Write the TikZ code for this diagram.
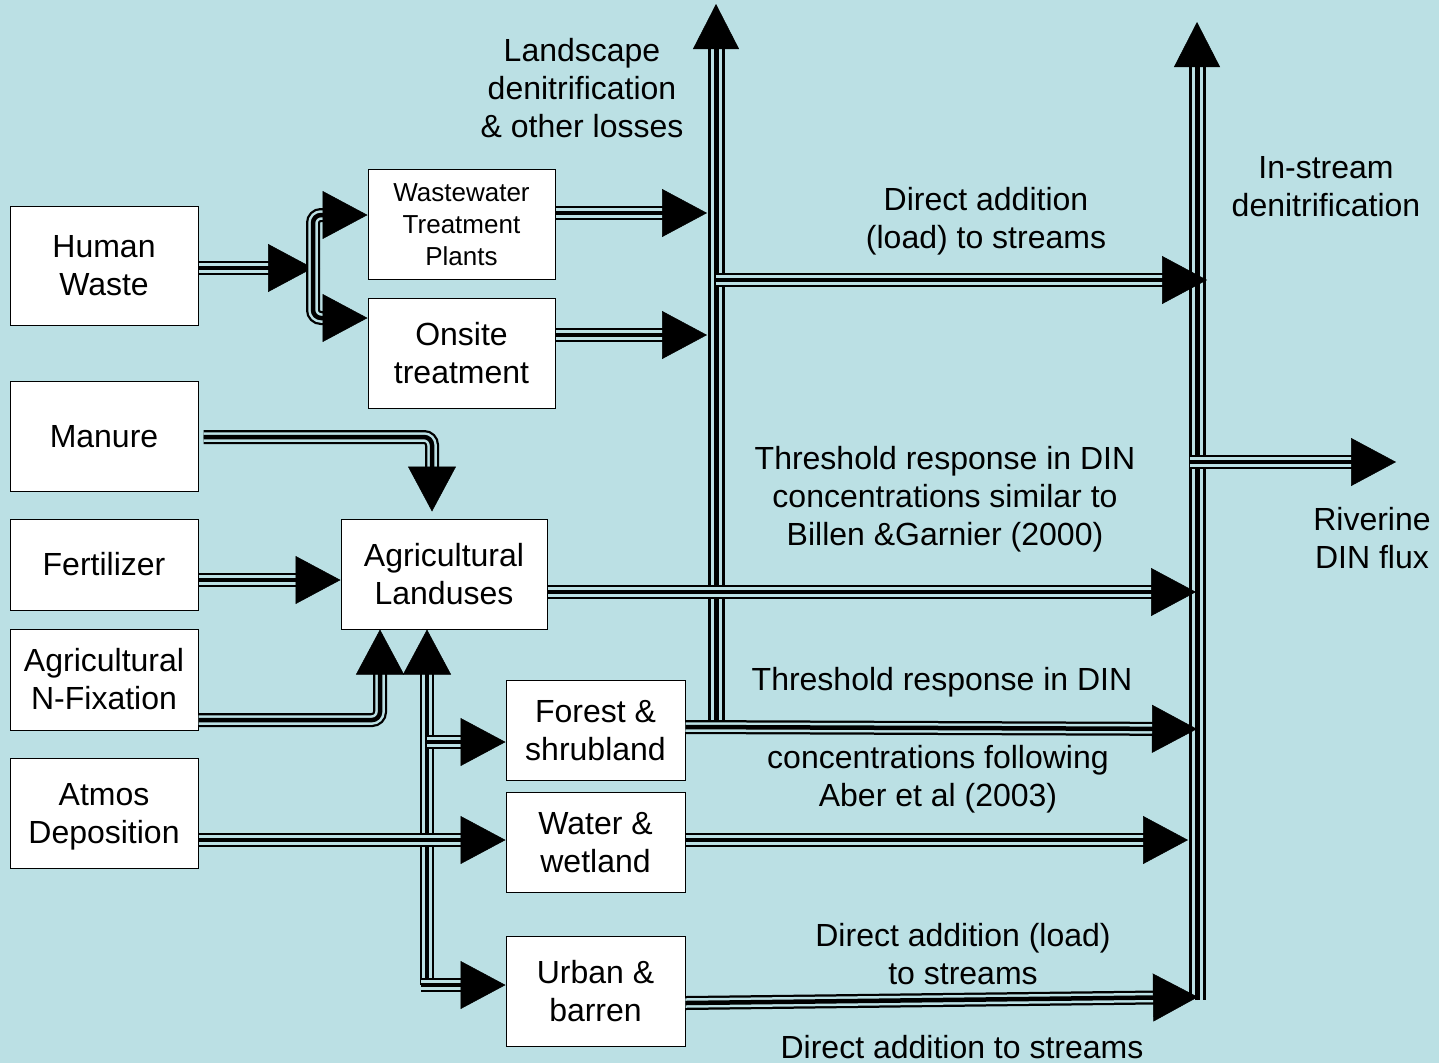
\documentclass[tikz,border=0pt]{standalone}
\usepackage{fontspec}
\setmainfont{Liberation Sans}
\usetikzlibrary{arrows.meta}
\definecolor{bgc}{RGB}{187,224,228}
\newcommand\mytop{\rule{0pt}{0.926em}}
\newcommand\mybot{\rule[-0.21em]{0pt}{0pt}}
\tikzset{
  box/.style={draw=black, line width=1pt, fill=white, align=center, inner sep=0pt,
    font=\fontsize{32}{38}\selectfont},
  lbl/.style={align=center, inner sep=0pt, font=\fontsize{32}{38}\selectfont},
  conn/.style={draw=black, line width=4.5pt, shorten >=44pt,
    preaction={draw=black, line width=14pt, shorten >=44pt},
    preaction={draw=bgc, line width=9.5pt, shorten >=44pt},
    postaction={draw=black, line width=0.5pt, shorten >=0pt, -{Triangle[length=45pt,width=48pt]}}},
  bigconn/.style={draw=black, line width=5pt, shorten >=44pt,
    preaction={draw=black, line width=17pt, shorten >=44pt},
    preaction={draw=bgc, line width=11pt, shorten >=44pt},
    postaction={draw=black, line width=0.5pt, shorten >=0pt, -{Triangle[length=45pt,width=46pt]}}},
}
\begin{document}
\begin{tikzpicture}[x=1pt,y=-1pt]
\fill[bgc] (0,0) rectangle (1439,1063);
\useasboundingbox (0,0) rectangle (1439,1063);

% boxes
\node[box, minimum width=188pt, minimum height=119pt] (hw) at (104,265.5) {\mytop Human\\Waste\mybot};
\node[box, minimum width=187pt, minimum height=110pt, font=\fontsize{26}{32}\selectfont] (wtp) at (461.5,224) {\mytop Wastewater\\Treatment\\Plants\mybot};
\node[box, minimum width=187pt, minimum height=110pt] (ons) at (461.5,353) {\mytop Onsite\\treatment\mybot};
\node[box, minimum width=188pt, minimum height=110pt] (man) at (104,436) {\mytop Manure\mybot};
\node[box, minimum width=188pt, minimum height=91pt] (fer) at (104,564.5) {\mytop Fertilizer\mybot};
\node[box, minimum width=188pt, minimum height=101pt] (anf) at (104,679.5) {\mytop Agricultural\\N-Fixation\mybot};
\node[box, minimum width=188pt, minimum height=110pt] (atm) at (104,813) {\mytop Atmos\\Deposition\mybot};
\node[box, minimum width=206pt, minimum height=110pt] (agl) at (444,574) {\mytop Agricultural\\Landuses\mybot};
\node[box, minimum width=179pt, minimum height=100pt] (for) at (595.5,730) {\mytop Forest \&\\shrubland\mybot};
\node[box, minimum width=179pt, minimum height=100pt] (wat) at (595.5,842) {\mytop Water \&\\wetland\mybot};
\node[box, minimum width=179pt, minimum height=110pt] (urb) at (595.5,991) {\mytop Urban \&\\barren\mybot};

% coordinates
\coordinate (J) at (313,268);
\coordinate (LVb) at (716,727);
\coordinate (LVt) at (716,4);
\coordinate (LVa) at (707,213);
\coordinate (LVc) at (707,335);
\coordinate (LVd) at (716,280);
\coordinate (RVb) at (1197,1000);
\coordinate (RVt) at (1197,22);
\coordinate (RVa) at (1207,280);
\coordinate (RVg) at (1196,592);
\coordinate (RVf) at (1197,729);
\coordinate (RVw) at (1188,840);
\coordinate (RVu) at (1198,997);
\coordinate (RVr) at (1190,462);
\coordinate (out) at (1396,462);
\coordinate (B) at (427,985);
\coordinate (Bf) at (427,742);

% big verticals
\draw[bigconn] (LVb) -- (LVt);
\draw[bigconn] (RVb) -- (RVt);

% human waste branch
\draw[conn] (hw.east |- J) -- (J);
\draw[conn, rounded corners=8pt] (J) |- ([yshift=9pt]wtp.west);
\draw[conn, rounded corners=8pt] (J) |- ([yshift=35pt]ons.west);
\draw[conn] ([yshift=11pt]wtp.east) -- (LVa);
\draw[conn] ([yshift=18pt]ons.east) -- (LVc);
\draw[conn] (LVd) -- (RVa);

% inputs to agriculture
\draw[conn, rounded corners=8pt] ([xshift=5pt,yshift=-1pt]man.east) -| ([xshift=-12pt,yshift=7pt]agl.north);
\draw[conn] ([yshift=-15.5pt]fer.east) -- ([yshift=-6pt]agl.west);
\draw[conn, rounded corners=8pt] ([yshift=-40.5pt]anf.east) -| ([xshift=-64pt]agl.south);

% land use bus
\draw[conn] (B) -- ([xshift=-17pt]agl.south);
\draw[conn] (Bf) -- ([yshift=-12pt]for.west);
\draw[conn] ([xshift=-6pt]B) -- ([yshift=6pt]urb.west);
\draw[conn] ([yshift=-27pt]atm.east) -- ([yshift=2pt]wat.west);

% outputs to stream
\draw[conn] ([yshift=-18pt]agl.east) -- (RVg);
\draw[conn] ([yshift=3pt]for.east) -- (RVf);
\draw[conn] ([yshift=2pt]wat.east) -- (RVw);
\draw[conn] ([yshift=-12pt]urb.east) -- (RVu);
\draw[conn] (RVr) -- (out);

% labels
\node[lbl] (t1) at (582,88.5) {\mytop Landscape\\denitrification\\\& other losses\mybot};
\node[lbl] (t2) at (1326,186) {\mytop In-stream\\denitrification\mybot};
\node[lbl] (t3) at (986,218) {\mytop Direct addition\\(load) to streams\mybot};
\node[lbl] (t4) at (945,496) {\mytop Threshold response in DIN\\concentrations similar to\\Billen \&Garnier (2000)\mybot};
\node[lbl] (t5) at (1372,538) {\mytop Riverine\\DIN flux\mybot};
\node[lbl] (t6) at (942,679) {\mytop Threshold response in DIN\mybot};
\node[lbl] (t7) at (938,776) {\mytop concentrations following\\Aber et al (2003)\mybot};
\node[lbl] (t8) at (963,954) {\mytop Direct addition (load)\\to streams\mybot};
\node[lbl] (t9) at (962,1047) {\mytop Direct addition to streams\mybot};
\end{tikzpicture}
\end{document}
